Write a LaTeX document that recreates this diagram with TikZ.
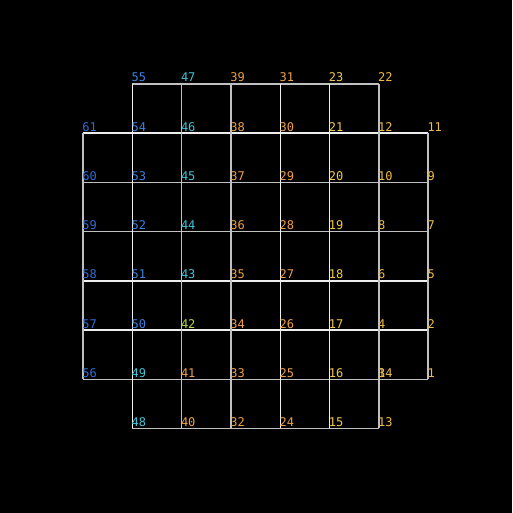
\documentclass[tikz,border=0pt]{standalone}
\usepackage{fontspec}
\setmonofont{DejaVu Sans Mono}
\usepackage{tikz}

\definecolor{cdeep}{HTML}{2E6CD8}
\definecolor{cblue}{HTML}{3A82E0}
\definecolor{ccyan}{HTML}{42C2D6}
\definecolor{clime}{HTML}{B4D846}
\definecolor{corange}{HTML}{F0A044}
\definecolor{cgold}{HTML}{F0BC44}
\definecolor{cyell}{HTML}{F2C848}
\definecolor{edgelight}{HTML}{EEEEEE}
\definecolor{edgegray}{HTML}{C0C0C0}

\begin{document}
\begin{tikzpicture}[x=1pt,y=-1pt,
  edgew/.style={edgelight, line width=1.4pt},
  edgeg/.style={edgegray, line width=1.4pt},
  lbl/.style={anchor=base west, inner sep=0pt, xshift=-0.8pt, yshift=2pt,
    font=\ttfamily\fontsize{12}{14}\selectfont}]
% Background
\fill[black] (0,0) rectangle (512,513);
\useasboundingbox (0,0) rectangle (512,513);

% Vertices: number / column / row (row 0 at bottom)
\foreach \n/\i/\j in {
  1/7/1, 2/7/2, 5/7/3, 7/7/4, 9/7/5, 11/7/6,
  13/6/0, 3/6/1, 14/6/1, 4/6/2, 6/6/3, 8/6/4, 10/6/5, 12/6/6, 22/6/7,
  15/5/0, 16/5/1, 17/5/2, 18/5/3, 19/5/4, 20/5/5, 21/5/6, 23/5/7,
  24/4/0, 25/4/1, 26/4/2, 27/4/3, 28/4/4, 29/4/5, 30/4/6, 31/4/7,
  32/3/0, 33/3/1, 34/3/2, 35/3/3, 36/3/4, 37/3/5, 38/3/6, 39/3/7,
  40/2/0, 41/2/1, 42/2/2, 43/2/3, 44/2/4, 45/2/5, 46/2/6, 47/2/7,
  48/1/0, 49/1/1, 50/1/2, 51/1/3, 52/1/4, 53/1/5, 54/1/6, 55/1/7,
  56/0/1, 57/0/2, 58/0/3, 59/0/4, 60/0/5, 61/0/6}
{
  \coordinate (v\n) at (83+49.3*\i, 428.4-49.2*\j);
}

% Horizontal edges
\draw[edgeg] (v55) -- (v22);
\draw[edgew] (v61) -- (v11);
\draw[edgeg] (v60) -- (v9);
\draw[edgeg] (v59) -- (v7);
\draw[edgew] (v58) -- (v5);
\draw[edgew] (v57) -- (v2);
\draw[edgeg] (v56) -- (v1);
\draw[edgeg] (v48) -- (v13);

% Vertical edges
\draw[edgeg] (v61) -- (v56);
\draw[edgew] (v55) -- (v48);
\draw[edgeg] (v47) -- (v40);
\draw[edgeg] (v39) -- (v32);
\draw[edgew] (v31) -- (v24);
\draw[edgew] (v23) -- (v15);
\draw[edgeg] (v22) -- (v13);
\draw[edgeg] (v11) -- (v1);

% Labels
\foreach \n/\c in {1/cgold, 2/cgold, 5/cgold, 7/cgold, 9/cgold, 11/cgold,
  13/cgold, 3/cgold, 14/cgold, 4/cgold, 6/cgold, 8/cgold, 10/cgold, 12/cgold, 22/cgold,
  15/cyell, 16/cyell, 17/cyell, 18/cyell, 19/cyell, 20/cyell, 21/cyell, 23/cyell,
  24/corange, 25/corange, 26/corange, 27/corange, 28/corange, 29/corange, 30/corange, 31/corange,
  32/corange, 33/corange, 34/corange, 35/corange, 36/corange, 37/corange, 38/corange, 39/corange,
  40/corange, 41/corange, 42/clime, 43/ccyan, 44/ccyan, 45/ccyan, 46/ccyan, 47/ccyan,
  48/ccyan, 49/ccyan, 50/cblue, 51/cblue, 52/cblue, 53/cblue, 54/cblue, 55/cblue,
  56/cdeep, 57/cdeep, 58/cdeep, 59/cdeep, 60/cdeep, 61/cdeep}
  \node[lbl, text=\c] (n\n) at (v\n) {\n};
\end{tikzpicture}
\end{document}
